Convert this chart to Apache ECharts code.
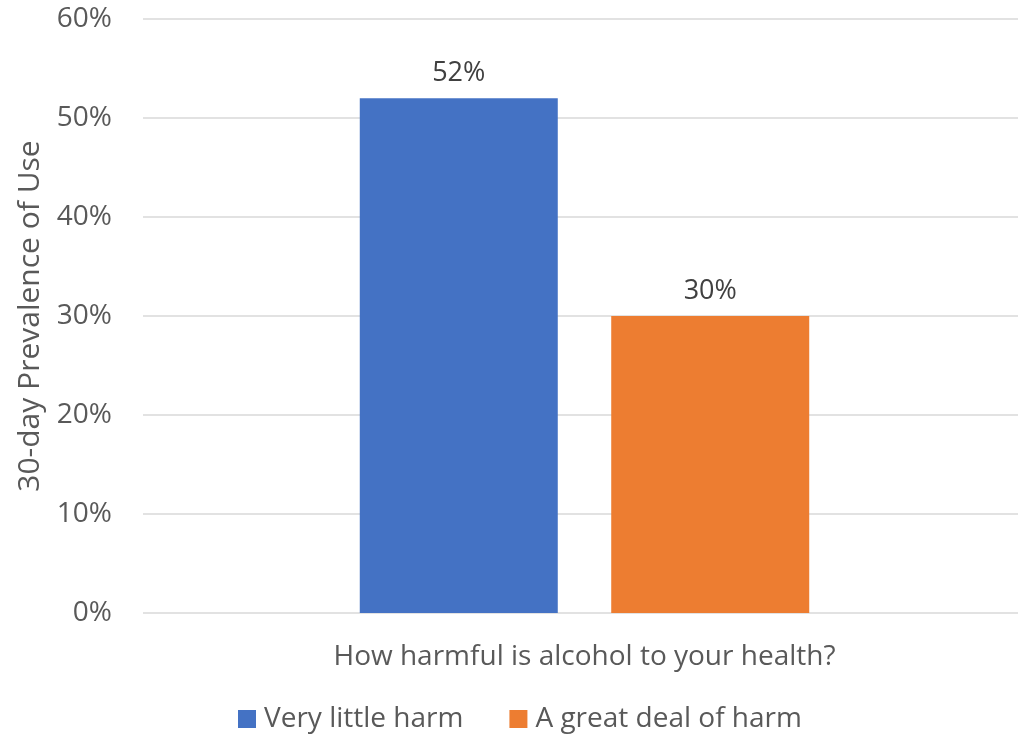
<!DOCTYPE html>
<html><head><meta charset="utf-8">
<script src="https://cdn.jsdelivr.net/npm/echarts@6/dist/echarts.min.js"></script>
<style>html,body{margin:0;padding:0;background:#fff}#c{width:1018px;height:734px}</style>
</head><body><div id="c"></div>
<script>
const categories = ['How harmful is alcohol to your health?'];
const seriesNames = ['Very little harm', 'A great deal of harm'];
const veryLittle = [52];
const greatDeal = [30];
const yTicks = [0, 10, 20, 30, 40, 50, 60];

const FONT = '"Open Sans", "Noto Sans", sans-serif';
const chart = echarts.init(document.getElementById('c'));
chart.setOption({
  animation: false,
  textStyle: { fontFamily: FONT },
  grid: { left: 143, width: 883, top: 19, bottom: 121, containLabel: false, outerBoundsMode: 'none' },
  legend: {
    data: seriesNames, top: 700, left: 233,
    itemWidth: 18, itemHeight: 18, itemGap: 46,
    icon: 'rect',
    textStyle: { fontSize: 28, color: '#595959', fontFamily: FONT, padding: [0, 0, 0, 3] }
  },
  xAxis: {
    type: 'category', data: categories,
    axisLine: { show: false }, axisTick: { show: false },
    axisLabel: { fontSize: 28, color: '#595959', margin: 30, fontFamily: FONT }
  },
  yAxis: {
    type: 'value', min: yTicks[0], max: yTicks[yTicks.length - 1], interval: 10,
    name: '30-day Prevalence of Use', nameLocation: 'middle', nameGap: 92,
    nameTextStyle: { fontSize: 30, color: '#595959', fontFamily: FONT },
    axisLine: { show: false }, axisTick: { show: false },
    axisLabel: { formatter: v => v + '%', fontSize: 28, color: '#595959', margin: 31, fontFamily: FONT },
    splitLine: { lineStyle: { color: '#d9d9d9', width: 1.5 } }
  },
  series: [
    {
      name: seriesNames[0], type: 'bar', data: veryLittle, barWidth: 198, barGap: '27%',
      itemStyle: { color: '#4472c4' },
      label: { show: true, position: 'top', distance: 11, formatter: p => p.value + '%', fontSize: 27, color: '#404040', fontFamily: FONT }
    },
    {
      name: seriesNames[1], type: 'bar', data: greatDeal, barWidth: 198,
      itemStyle: { color: '#ed7d31' },
      label: { show: true, position: 'top', distance: 11, formatter: p => p.value + '%', fontSize: 27, color: '#404040', fontFamily: FONT }
    }
  ]
});
</script></body></html>
